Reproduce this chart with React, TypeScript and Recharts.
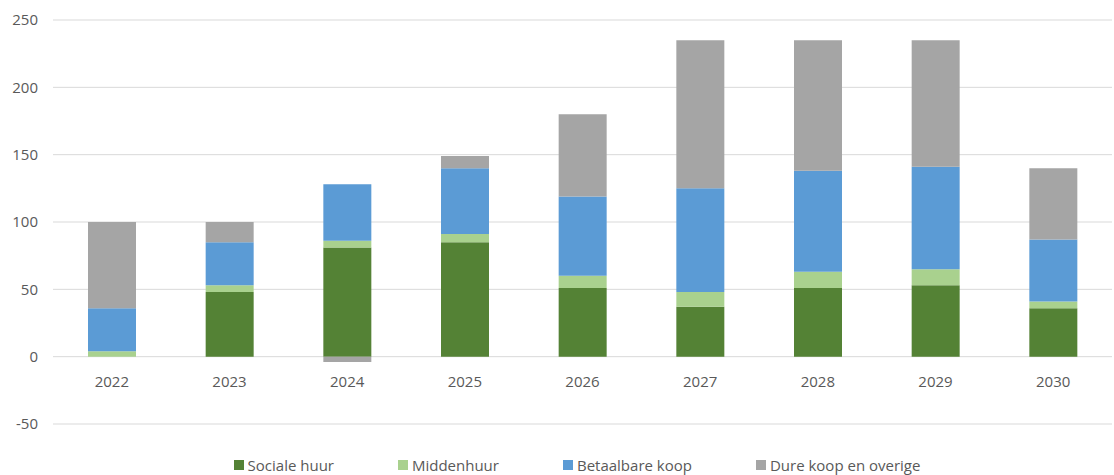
import React from 'react';
import { BarChart, Bar, XAxis, YAxis, CartesianGrid, Legend } from 'recharts';

// Woningbouwprogramma per jaar
const years = ['2022', '2023', '2024', '2025', '2026', '2027', '2028', '2029', '2030'];
const socialeHuur = [0, 48, 81, 85, 51, 37, 51, 53, 36];
const middenhuur = [4, 5, 5, 6, 9, 11, 12, 12, 5];
const betaalbareKoop = [32, 32, 42, 49, 59, 77, 75, 76, 46];
const dureKoop = [64, 15, -4, 9, 61, 110, 97, 94, 53];
const yTicks = [-50, 0, 50, 100, 150, 200, 250];

const series = [
  { key: 'sociale', name: 'Sociale huur', color: '#548235' },
  { key: 'midden', name: 'Middenhuur', color: '#a9d18e' },
  { key: 'betaalbaar', name: 'Betaalbare koop', color: '#5b9bd5' },
  { key: 'duur', name: 'Dure koop en overige', color: '#a5a5a5' },
];

const data = years.map((year, i) => ({
  year,
  sociale: socialeHuur[i],
  midden: middenhuur[i],
  betaalbaar: betaalbareKoop[i],
  duur: dureKoop[i],
}));

const FONT = '"Open Sans", sans-serif';
const TEXT = '#595959';
const FS = 15;
const TOP = 20;
const PLOT_H = 404;
const DOMAIN: [number, number] = [-50, 250];

// category labels sit just under the zero line, like Excel does
const zeroOffset = (PLOT_H * (0 - DOMAIN[0])) / (DOMAIN[1] - DOMAIN[0]);

const YearTick = (props: any) => {
  const { x, payload } = props;
  const y = TOP + PLOT_H - zeroOffset + 24;
  return (
    <text x={x} y={y} textAnchor="middle" dominantBaseline="central"
      fill={TEXT} fontSize={FS} fontFamily={FONT}>
      {payload.value}
    </text>
  );
};

const renderLegend = () => (
  <div style={{ display: 'flex', justifyContent: 'center', gap: 64, height: 20,
    alignItems: 'center', fontFamily: FONT, fontSize: FS, color: TEXT }}>
    {series.map((s) => (
      <div key={s.key} style={{ display: 'flex', alignItems: 'center' }}>
        <span style={{ width: 10, height: 10, background: s.color, marginRight: 4, display: 'inline-block' }} />
        {s.name}
      </div>
    ))}
  </div>
);

export default function App() {
  return (
    <div style={{ position: 'absolute', left: 0, top: 0, background: '#fff' }}>
      <BarChart
        width={1114}
        height={475}
        data={data}
        stackOffset="sign"
        margin={{ top: TOP, right: 2, left: 0, bottom: 30 }}
      >
        <CartesianGrid vertical={false} stroke="#d9d9d9" />
        <XAxis
          dataKey="year"
          height={1}
          axisLine={false}
          tickLine={false}
          tick={<YearTick />}
          interval={0}
        />
        <YAxis
          width={53}
          domain={DOMAIN}
          ticks={yTicks}
          axisLine={false}
          tickLine={false}
          tickMargin={9}
          tick={{ fill: TEXT, fontSize: FS, fontFamily: FONT }}
        />
        <Legend
          content={renderLegend}
          wrapperStyle={{ position: 'absolute', top: 455, left: 20, width: 1114 }}
        />
        {series.map((s) => (
          <Bar
            key={s.key}
            dataKey={s.key}
            name={s.name}
            stackId="a"
            fill={s.color}
            barSize={48}
            isAnimationActive={false}
          />
        ))}
      </BarChart>
    </div>
  );
}
